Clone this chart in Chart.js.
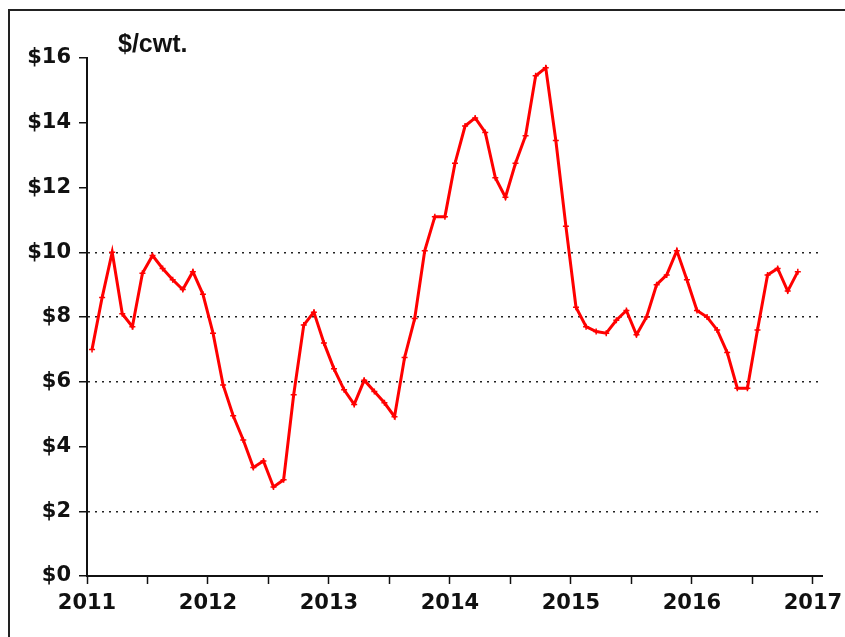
<!DOCTYPE html>
<html>
<head>
<meta charset="utf-8">
<script src="https://cdn.jsdelivr.net/npm/chart.js@4"></script>
<style>
  html, body { margin: 0; padding: 0; background: #fff; }
  #wrap { position: relative; width: 845px; height: 637px; overflow: hidden; }
  #frame { position: absolute; left: 8px; top: 9px; width: 900px; height: 700px;
           border-left: 2px solid #222; border-top: 2px solid #222; }
  #unit { position: absolute; left: 118px; top: 29px; font: bold 25px "Liberation Sans", Arial, sans-serif;
          color: #111; }
  canvas { position: absolute; left: 0; top: 0; }
</style>
</head>
<body>
<div id="wrap">
  <div id="frame"></div>
  <canvas id="c" width="845" height="637"></canvas>
  <div id="unit">$/cwt.</div>
</div>
<script>
// Monthly prices, $/cwt.
const price2011 = [7.0, 8.6, 10.0, 8.1, 7.7, 9.35, 9.9, 9.5, 9.15, 8.85, 9.4, 8.7];
const price2012 = [7.5, 5.9, 4.95, 4.2, 3.35, 3.55, 2.75, 2.97, 5.6, 7.75, 8.15, 7.2];
const price2013 = [6.4, 5.75, 5.3, 6.05, 5.7, 5.35, 4.92, 6.75, 7.95, 10.05, 11.1, 11.1];
const price2014 = [12.75, 13.9, 14.15, 13.7, 12.3, 11.7, 12.75, 13.6, 15.45, 15.7, 13.45, 10.8];
const price2015 = [8.3, 7.7, 7.55, 7.5, 7.9, 8.2, 7.45, 8.0, 9.0, 9.3, 10.05, 9.15];
const price2016 = [8.2, 8.0, 7.6, 6.9, 5.8, 5.8, 7.6, 9.3, 9.5, 8.8, 9.4];
const yearLabels = [2011, 2012, 2013, 2014, 2015, 2016, 2017];
const yTicks = [0, 2, 4, 6, 8, 10, 12, 14, 16];
const dottedGridValues = [2, 6, 8, 10];

const byYear = [[2011, price2011], [2012, price2012], [2013, price2013],
                [2014, price2014], [2015, price2015], [2016, price2016]];
const points = [];
byYear.forEach(([yr, arr]) => arr.forEach((v, i) => points.push({ x: yr + (i + 0.5) / 12, y: v })));

const labelFont = { family: '"DejaVu Sans", Verdana, sans-serif', size: 21, weight: 'bold' };

new Chart(document.getElementById('c'), {
  type: 'line',
  data: {
    datasets: [{
      data: points,
      borderColor: '#ff0000',
      backgroundColor: '#ff0000',
      borderWidth: 3,
      tension: 0,
      pointStyle: 'cross',
      pointRadius: 3,
      pointBorderWidth: 1.5,
      pointBorderColor: '#ff0000',
      pointHoverRadius: 3
    }]
  },
  options: {
    responsive: false,
    animation: false,
    events: [],
    layout: { padding: { top: 58, right: 23, left: 0, bottom: 0 } },
    plugins: { legend: { display: false }, tooltip: { enabled: false }, title: { display: false } },
    scales: {
      x: {
        type: 'linear',
        min: yearLabels[0],
        max: yearLabels[yearLabels.length - 1] + 0.075,
        afterFit: s => { s.height = 61; s.paddingLeft = 0; s.paddingRight = 0; },
        afterBuildTicks: s => {
          const t = [];
          for (let i = 0; i < yearLabels.length; i++) {
            t.push({ value: yearLabels[i] });
            if (i < yearLabels.length - 1) t.push({ value: yearLabels[i] + 0.5 });
          }
          s.ticks = t;
        },
        ticks: {
          autoSkip: false,
          maxRotation: 0,
          padding: 7,
          color: '#111',
          font: labelFont,
          callback: v => (Number.isInteger(v) ? String(v) : '')
        },
        grid: { drawOnChartArea: false, drawTicks: true, tickLength: 8, tickColor: '#111', tickWidth: 1.5 },
        border: { display: true, color: '#111', width: 2 }
      },
      y: {
        min: 0,
        max: 16,
        afterFit: s => { s.width = 87; s.paddingTop = 0; s.paddingBottom = 0; },
        afterBuildTicks: s => { s.ticks = yTicks.map(v => ({ value: v })); },
        ticks: {
          padding: 8,
          color: '#111',
          font: labelFont,
          callback: v => '$' + v
        },
        grid: {
          drawTicks: true,
          tickLength: 8,
          tickColor: '#111',
          tickWidth: 1.5,
          lineWidth: 1.5,
          color: ctx => (ctx.tick && dottedGridValues.includes(ctx.tick.value)) ? '#222' : 'rgba(0,0,0,0)'
        },
        border: { display: true, color: '#111', width: 2, dash: [2, 5] }
      }
    }
  }
});
</script>
</body>
</html>
